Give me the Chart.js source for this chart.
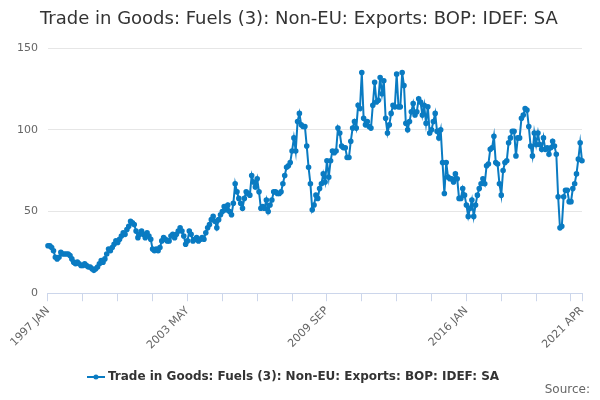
<!DOCTYPE html>
<html>
<head>
<meta charset="utf-8">
<script src="https://cdn.jsdelivr.net/npm/chart.js@4"></script>
<style>
  body { margin: 0; background: #fff; font-family: "DejaVu Sans", sans-serif; }
  #wrap { position: relative; width: 600px; height: 400px; }
  #title { position: absolute; left: 40px; top: 7px; font-size: 18px; color: #333; }
  #source { position: absolute; right: 10px; bottom: 4px; font-size: 12px; color: #666; }
</style>
</head>
<body>
<div id="wrap">
  <canvas id="chart" width="600" height="400"></canvas>
  <div id="title"></div>
  <div id="source">Source:</div>
</div>
<script>
// Month labels, 1997 JAN .. 2021 APR
const months = ['JAN', 'FEB', 'MAR', 'APR', 'MAY', 'JUN', 'JUL', 'AUG', 'SEP', 'OCT', 'NOV', 'DEC'];
const labels = [];
for (let y = 1997; y <= 2021; y++) {
    for (let m = 0; m < 12; m++) {
        if (y === 2021 && m > 3) break;
        labels.push(y + ' ' + months[m]);
    }
}

const seriesName = 'Trade in Goods: Fuels (3): Non-EU: Exports: BOP: IDEF: SA';

const values = [
    29, 29, 28, 26, 22, 21, 22, 25, 24, 24, 24, 24,
    23, 21, 19, 18, 19, 18, 17, 17, 18, 17, 16, 16,
    15, 14, 15, 16, 18, 20, 19, 21, 24, 27, 26, 28,
    30, 32, 31, 33, 35, 37, 36, 39, 41, 44, 43, 42,
    38, 34, 36, 38, 36, 34, 37, 35, 33, 27, 26, 27,
    26, 28, 32, 34, 33, 32, 32, 35, 36, 34, 36, 38,
    40, 38, 35, 30, 32, 38, 36, 32, 33, 34, 32, 33,
    34, 33, 37, 40, 42, 45, 47, 44, 40, 45, 48, 50,
    53, 51, 54, 50, 48, 55, 67, 62, 58, 55, 52, 58,
    62, 61, 60, 72, 68, 65, 70, 62, 52, 53, 52, 57,
    50, 54, 57, 62, 62, 61, 61, 62, 67, 72, 77, 78,
    80, 87, 95, 87, 105, 110, 103, 102, 102, 90, 77, 67,
    51, 54, 60, 58, 64, 67, 73, 68, 81, 71, 81, 87,
    86, 87, 101, 98, 90, 89, 89, 83, 83, 93, 101, 105,
    101, 115, 113, 135, 107, 103, 105, 102, 101, 115, 129, 117,
    118, 132, 122, 130, 107, 98, 103, 110, 115, 114, 134, 114,
    114, 135, 127, 104, 100, 105, 111, 116, 109, 111, 119, 117,
    109, 115, 104, 114, 98, 100, 105, 110, 99, 95, 100, 80,
    61, 80, 71, 70, 70, 68, 73, 70, 58, 58, 64, 60,
    54, 47, 52, 57, 47, 54, 60, 64, 67, 70, 67, 78,
    79, 88, 89, 96, 80, 79, 67, 60, 75, 80, 81, 92,
    95, 99, 99, 84, 95, 95, 107, 109, 113, 112, 102, 90,
    84, 98, 91, 98, 91, 88, 95, 88, 89, 85, 89, 93,
    90, 85, 59, 40, 41, 59, 63, 63, 56, 56, 64, 67,
    73, 82, 92, 81
];

const yTicks = [0, 50, 100, 150];
const labelStep = 76;   // one label every 76 months
const tickStep = 19;    // small tick marks in between
const lineColor = '#0a7bc2';

document.getElementById('title').textContent = seriesName;

// legend symbol: short line with a dot
const legendIcon = document.createElement('canvas');
legendIcon.width = 18;
legendIcon.height = 10;
const lctx = legendIcon.getContext('2d');
lctx.strokeStyle = lineColor;
lctx.lineWidth = 2;
lctx.beginPath(); lctx.moveTo(0, 5); lctx.lineTo(18, 5); lctx.stroke();
lctx.fillStyle = lineColor;
lctx.beginPath(); lctx.arc(9, 5, 2.5, 0, Math.PI * 2); lctx.fill();

new Chart(document.getElementById('chart'), {
    type: 'line',
    data: {
        labels: labels,
        datasets: [{
            label: seriesName,
            data: values,
            borderColor: lineColor,
            backgroundColor: lineColor,
            borderWidth: 2,
            pointRadius: 1.8,
            pointHoverRadius: 3,
            pointStyle: 'circle',
            tension: 0
        }]
    },
    options: {
        responsive: false,
        animation: false,
        layout: { padding: { left: 7, right: 18, top: 48, bottom: 7 } },
        plugins: {
            legend: {
                position: 'bottom',
                labels: {
                    usePointStyle: true,
                    color: '#333',
                    font: { family: 'DejaVu Sans', size: 12, weight: 'bold' },
                    padding: 16,
                    generateLabels: (chart) => [{
                        text: seriesName,
                        fontColor: '#333',
                        pointStyle: legendIcon,
                        datasetIndex: 0,
                        hidden: false
                    }]
                }
            },
            tooltip: { enabled: false }
        },
        scales: {
            x: {
                afterBuildTicks: (axis) => {
                    const t = [];
                    for (let i = 0; i < labels.length; i += tickStep) t.push({ value: i });
                    t.push({ value: labels.length - 1 });
                    axis.ticks = t;
                },
                ticks: {
                    autoSkip: false,
                    maxRotation: 45,
                    minRotation: 45,
                    color: '#666',
                    font: { family: 'DejaVu Sans', size: 11 },
                    callback: function (v) {
                        if (v % labelStep === 0 || v === labels.length - 1) return labels[v];
                        return '';
                    }
                },
                grid: { drawOnChartArea: false, color: '#ccd6eb', tickLength: 8 },
                border: { color: '#ccd6eb' }
            },
            y: {
                min: 0,
                max: 150,
                afterBuildTicks: (axis) => { axis.ticks = yTicks.map(v => ({ value: v })); },
                ticks: { color: '#666', font: { family: 'DejaVu Sans', size: 11 }, padding: 10 },
                grid: { color: '#e6e6e6', drawTicks: false },
                border: { display: false }
            }
        }
    }
});
</script>
</body>
</html>
